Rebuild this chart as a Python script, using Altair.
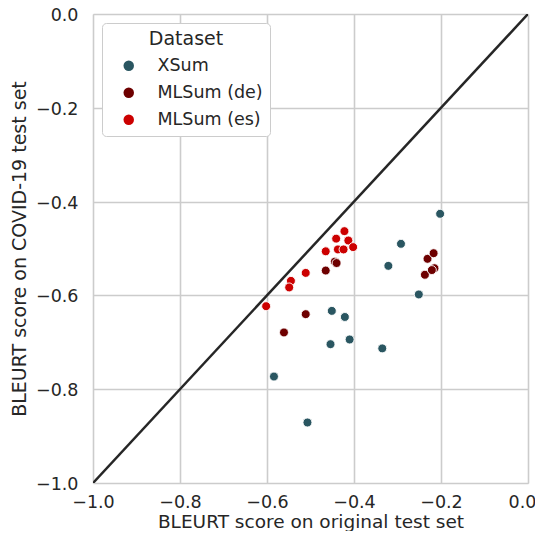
import altair as alt
import pandas as pd

# ---- data ----
xsum_x = [-0.202, -0.292, -0.321, -0.251, -0.451, -0.421, -0.454, -0.410, -0.335, -0.584, -0.507]
xsum_y = [-0.426, -0.490, -0.537, -0.598, -0.633, -0.646, -0.704, -0.694, -0.713, -0.773, -0.871]

de_x = [-0.444, -0.440, -0.465, -0.511, -0.561, -0.231, -0.217, -0.237, -0.215, -0.221]
de_y = [-0.528, -0.531, -0.547, -0.640, -0.679, -0.522, -0.510, -0.556, -0.542, -0.546]

es_x = [-0.422, -0.441, -0.413, -0.437, -0.424, -0.402, -0.465, -0.511, -0.545, -0.549, -0.602]
es_y = [-0.463, -0.479, -0.483, -0.502, -0.502, -0.497, -0.506, -0.552, -0.569, -0.583, -0.623]

datasets = ["XSum", "MLSum (de)", "MLSum (es)"]
colors = ["#2a5661", "#6e0000", "#cc0000"]

diag_x = [-1.0, 0.0]
diag_y = [-1.0, 0.0]
ticks = [-1.0, -0.8, -0.6, -0.4, -0.2, 0.0]

rows = []
for name, xs, ys in zip(datasets, [xsum_x, de_x, es_x], [xsum_y, de_y, es_y]):
    for a, b in zip(xs, ys):
        rows.append({"orig": a, "covid": b, "Dataset": name})
df = pd.DataFrame(rows)
diag = pd.DataFrame({"orig": diag_x, "covid": diag_y})

FONT = "DejaVu Sans"
TXT = "#262626"
W, H = 435, 469

xscale = alt.Scale(domain=[-1.0, 0.0], nice=False, zero=False)
yscale = alt.Scale(domain=[-1.0, 0.0], nice=False, zero=False)

xaxis = alt.Axis(values=ticks, format=".1f", title="BLEURT score on original test set",
                 grid=True, gridColor="#cccccc", gridWidth=1.6, domain=False, ticks=False,
                 labelFontSize=17.5, labelFont=FONT, labelColor=TXT, labelPadding=10,
                 labelOffset={"condition": {"test": "datum.value === 0", "value": -6}, "value": 0},
                 titleFontSize=18.5, titleFont=FONT, titleColor=TXT, titleFontWeight="normal",
                 titleX=W / 2, titleY=44, titleAlign="center", titleBaseline="alphabetic",
                 labelFlush=False)
yaxis = alt.Axis(values=ticks, format=".1f", title="BLEURT score on COVID-19 test set",
                 grid=True, gridColor="#cccccc", gridWidth=1.6, domain=False, ticks=False,
                 labelFontSize=17.5, labelFont=FONT, labelColor=TXT, labelPadding=15,
                 labelOffset=1.5,
                 titleFontSize=19, titleFont=FONT, titleColor=TXT, titleFontWeight="normal",
                 titleX=-68, titleY=H / 2, titleAlign="center", titleBaseline="alphabetic",
                 titleAngle=270, labelFlush=False)

line = alt.Chart(diag).mark_line(color=TXT, strokeWidth=2.5, clip=True).encode(
    x=alt.X("orig:Q", scale=xscale, axis=xaxis),
    y=alt.Y("covid:Q", scale=yscale, axis=yaxis),
)

points = alt.Chart(df).mark_point(filled=True, size=80, opacity=1, stroke="white",
                                  strokeWidth=0.9).encode(
    x=alt.X("orig:Q", scale=xscale, axis=xaxis),
    y=alt.Y("covid:Q", scale=yscale, axis=yaxis),
    color=alt.Color("Dataset:N", scale=alt.Scale(domain=datasets, range=colors),
                    sort=datasets,
                    legend=alt.Legend(orient="none", legendX=9, legendY=9,
                                      title="Dataset", titleFontSize=19, titleFont=FONT,
                                      titleColor=TXT, titleFontWeight="normal",
                                      titleAnchor="middle", titlePadding=8,
                                      labelFontSize=17.5, labelFont=FONT, labelColor=TXT,
                                      labelOffset=20, symbolSize=110, symbolType="circle",
                                      symbolStrokeWidth=0, symbolOffset=11,
                                      rowPadding=8, padding=7,
                                      fillColor="white", strokeColor="#cccccc",
                                      cornerRadius=4)),
    order=alt.Order("Dataset:N"),
)

chart = alt.layer(line, points).properties(
    width=W, height=H,
    autosize=alt.AutoSizeParams(type="none"),
    padding={"left": 85, "top": 6, "right": 7, "bottom": 48},
).configure_view(stroke="#cccccc", strokeWidth=1.5).configure(background="white")

chart.save("out.html", embed_options={"renderer": "svg", "actions": False})
